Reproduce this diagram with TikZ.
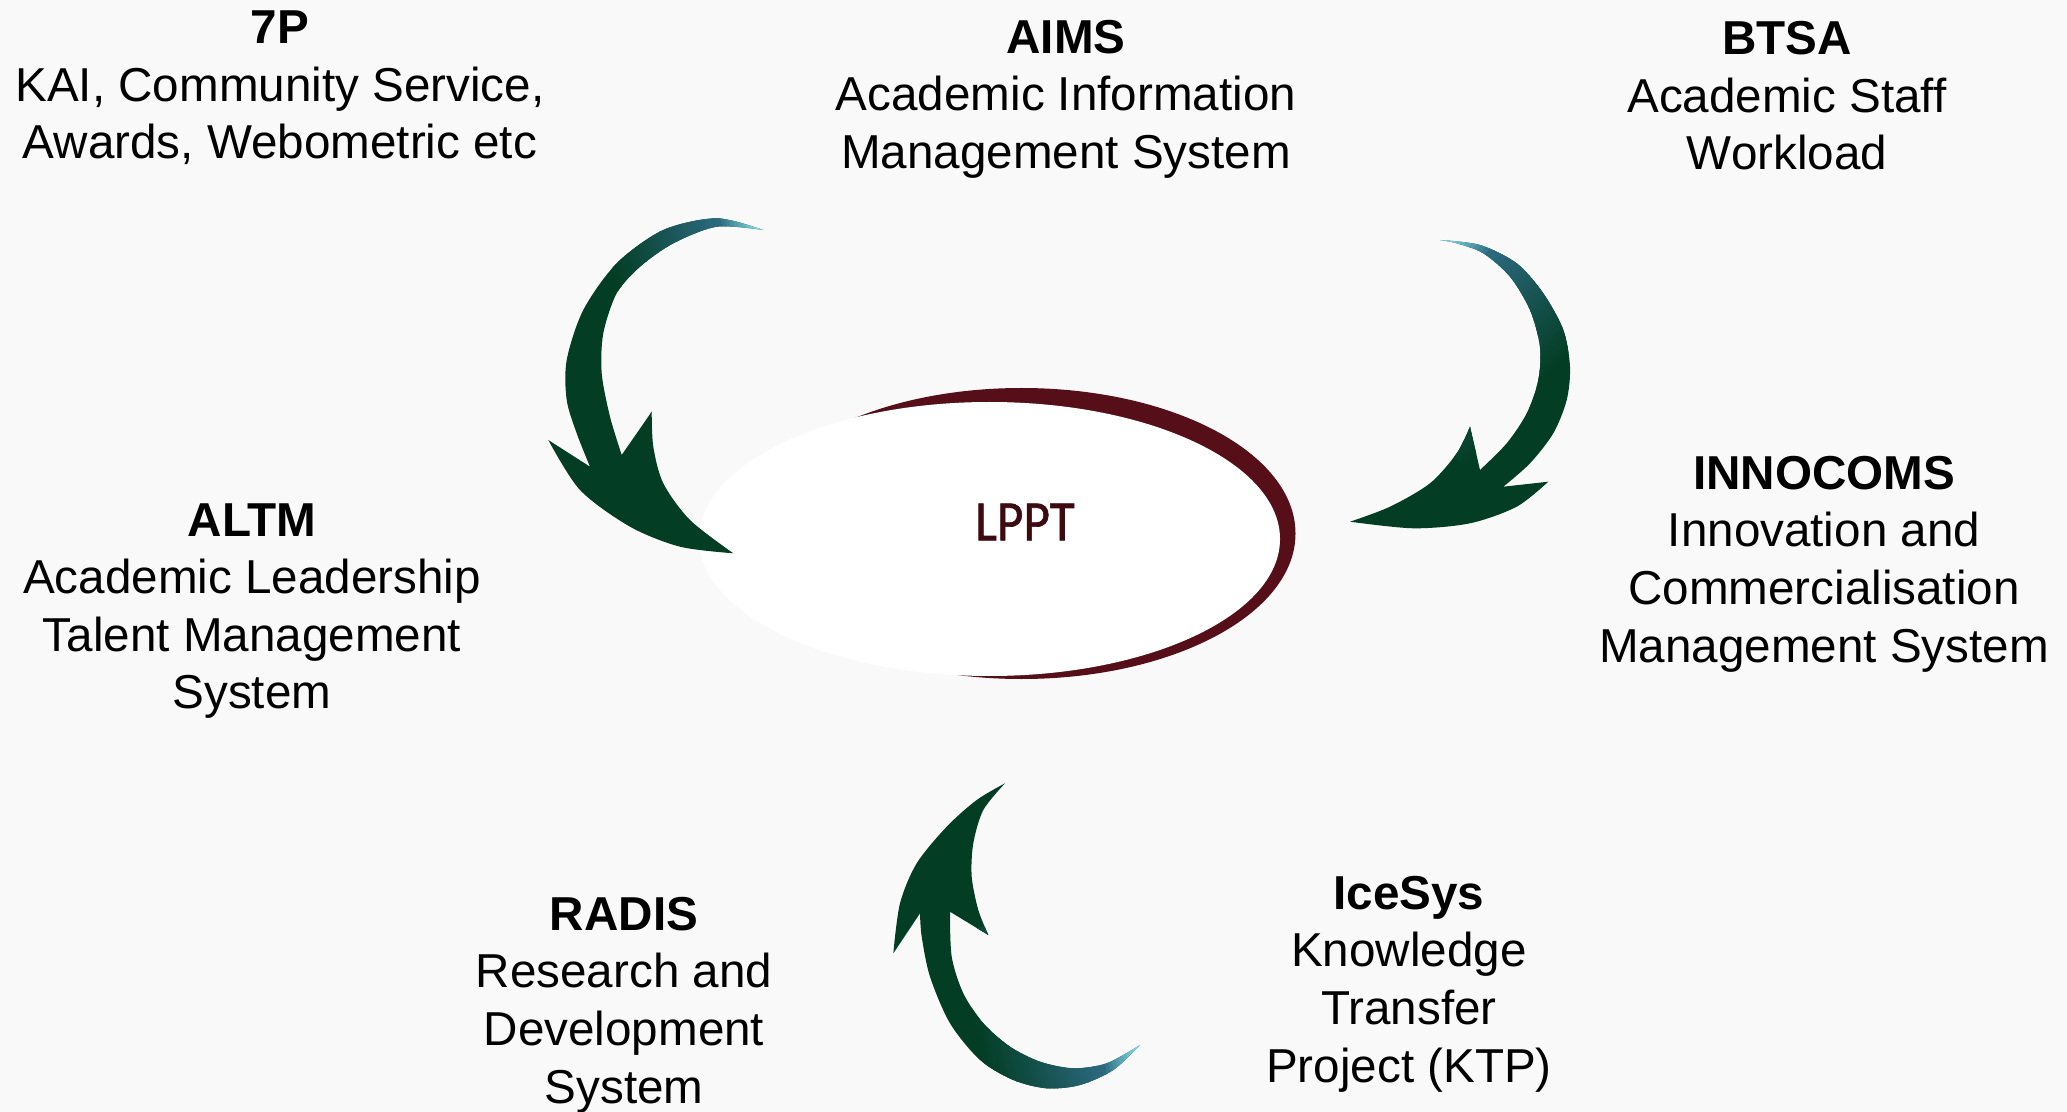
\documentclass[tikz,border=0pt]{standalone}
\usepackage{fontspec}
\setmainfont{Liberation Sans}
\newfontfamily\lpptfont[RawFeature={embolden=1.2}]{Carlito}
\usepackage{graphicx}
\definecolor{bg}{HTML}{F9F9F9}
\definecolor{agreen}{HTML}{033D24}
\definecolor{ateal}{HTML}{2C6A80}
\definecolor{acyan}{HTML}{86E4EE}
\definecolor{rim}{HTML}{560F18}
\definecolor{lpptc}{HTML}{3E0A11}
\newcommand\tailgrad[3]{%
\begin{scope}[shift={#1}, rotate=#2]
\fill[acyan] (-30,-150) rectangle (1,150);
\foreach \i in {0,...,39}{%
  \pgfmathsetmacro\gx{#3*\i/40}%
  \pgfmathsetmacro\gw{#3/40+1}%
  \ifnum\i<10
    \pgfmathtruncatemacro\gp{100*(1-\i/10)}%
    \colorlet{gc}{acyan!\gp!ateal}%
  \else
    \pgfmathtruncatemacro\gp{100*(1-(\i-10)/30)}%
    \colorlet{gc}{ateal!\gp!agreen}%
  \fi
  \fill[gc] (\gx,-150) rectangle ({\gx+\gw},150);
}
\end{scope}}
\begin{document}
\begin{tikzpicture}[x=0.5pt,y=-0.5pt,
  lbl/.style={align=center, font=\fontsize{23.8}{28.8}\selectfont, inner sep=0pt}
]
\fill[bg] (0,0) rectangle (2067,1112);
\useasboundingbox (0,0) rectangle (2067,1112);

% central ellipse
\fill[rim] (1021.5,533.5) ellipse [x radius=274, y radius=145.5];
\fill[white] (989.5,539) ellipse [x radius=290.5, y radius=137];
\node[text=lpptc] (lppt) at (1025,522) {\lpptfont\fontsize{28.5}{30}\selectfont\scalebox{0.9}[1]{LPPT}};

% arrow A (top left)
\begin{scope}
\clip plot[smooth] coordinates {(763.3,230) (716.7,218.3) (663.3,230) (616.7,263.3) (583.3,310) (566.7,360) (566.7,400) (576.7,433.3) (590,466.7)}
 -- (548.3,440)
 -- plot[smooth] coordinates {(548.3,440) (580,490) (630,526.7) (680,546.7) (733.3,553.3)}
 -- plot[smooth] coordinates {(733.3,553.3) (690,520) (663.3,483.3) (653.3,446.7) (651.7,411.7)}
 -- (621.7,455)
 -- plot[smooth] coordinates {(621.7,455) (610,416.7) (601.7,373.3) (603.3,333.3) (616.7,293.3) (640,266.7) (673.3,243.3) (716.7,226.7) (763.3,230)}
 -- cycle;
\fill[agreen] (500,180) rectangle (800,580);
\tailgrad{(763.3,230)}{194.3}{155}
\end{scope}

% arrow B (top right)
\begin{scope}
\clip plot[smooth] coordinates {(1440,240) (1480,245) (1516.7,263.3) (1543.3,293.3) (1563.3,330) (1570,366.7) (1566.7,400) (1553.3,433.3) (1530,463.3) (1503.3,486.7)}
 -- (1548.3,481.7)
 -- plot[smooth] coordinates {(1548.3,481.7) (1516.7,506.7) (1470,523.3) (1413.3,528.3) (1350,521.7)}
 -- plot[smooth] coordinates {(1350,521.7) (1390,506.7) (1430,483.3) (1456.7,453.3) (1470,426.7)}
 -- (1480,470)
 -- plot[smooth] coordinates {(1480,470) (1506.7,443.3) (1526.7,413.3) (1538.3,380) (1540,346.7) (1530,310) (1510,276.7) (1483.3,253.3) (1456.7,243.3) (1440,240)}
 -- cycle;
\fill[agreen] (1320,210) rectangle (1600,560);
\tailgrad{(1440,240)}{-42.5}{170}
\end{scope}

% arrow C (bottom)
\begin{scope}
\clip plot[smooth] coordinates {(1140,1045) (1113.3,1070) (1080,1085) (1046.7,1088.3) (1013.3,1080) (980,1060) (950,1023.3) (930,976.7) (921.7,936.7) (920,913.3)}
 -- (893.3,953.3)
 -- plot[smooth] coordinates {(893.3,953.3) (900,903.3) (916.7,863.3) (946.7,826.7) (976.7,800) (1005,783.3)}
 -- plot[smooth] coordinates {(1005,783.3) (983.3,810) (973.3,843.3) (971.7,876.7) (978.3,910) (988.3,935)}
 -- (950,911.7)
 -- plot[smooth] coordinates {(950,911.7) (951.7,956.7) (963.3,993.3) (983.3,1023.3) (1010,1046.7) (1040,1061.7) (1073.3,1068.3) (1106.7,1063.3) (1140,1045)}
 -- cycle;
\fill[agreen] (870,760) rectangle (1170,1100);
\tailgrad{(1140,1045)}{192.8}{155}
\end{scope}

% labels
\node[lbl] (p7) at (280,88) {\textbf{7P}\\KAI, Community Service,\\Awards, Webometric etc};
\node[lbl] (aims) at (1066,99) {\textbf{AIMS}\\Academic Information\\Management System};
\node[lbl] (btsa) at (1787,96) {\textbf{BTSA}\\Academic Staff\\Workload};
\node[lbl] (altm) at (252,611) {\textbf{ALTM}\\Academic Leadership\\Talent Management\\System};
\node[lbl] (innocoms) at (1824,564) {\textbf{INNOCOMS}\\Innovation and\\Commercialisation\\Management System};
\node[lbl] (radis) at (624,1005) {\textbf{RADIS}\\Research and\\Development\\System};
\node[lbl] (icesys) at (1409,984) {\textbf{IceSys}\\Knowledge\\Transfer\\Project (KTP)};
\end{tikzpicture}
\end{document}
